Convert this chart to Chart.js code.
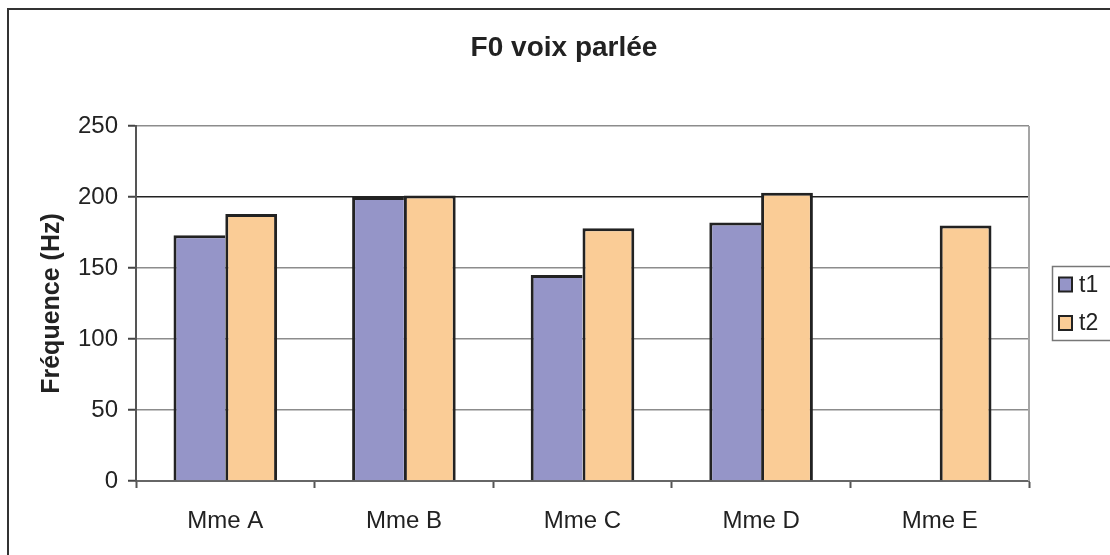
<!DOCTYPE html>
<html>
<head>
<meta charset="utf-8">
<script src="https://cdn.jsdelivr.net/npm/chart.js@4.4.1/dist/chart.umd.min.js"></script>
<style>
  body { margin: 0; background: #fff; }
  #wrap { width: 1110px; height: 555px; }
</style>
</head>
<body>
<div id="wrap"><canvas id="f0Chart" width="1110" height="555"></canvas></div>
<script>
const categories = ["Mme A", "Mme B", "Mme C", "Mme D", "Mme E"];
const t1Values = [173, 200, 145, 182, null];
const t2Values = [188, 201, 178, 203, 180];
const yTicks = [0, 50, 100, 150, 200, 250];

const FONT = "'Liberation Sans', Arial, sans-serif";

// frame, title, plot border and boxed legend like the Excel original
const excelFrame = {
  id: "excelFrame",
  afterDraw(chart) {
    const ctx = chart.ctx;
    const area = chart.chartArea;
    ctx.save();

    ctx.strokeStyle = "#333";
    ctx.lineWidth = 2;
    ctx.beginPath();
    ctx.moveTo(8, 555);
    ctx.lineTo(8, 9);
    ctx.lineTo(1110, 9);
    ctx.stroke();

    ctx.strokeStyle = "#a5a5a5";
    ctx.beginPath();
    ctx.moveTo(area.right, area.top);
    ctx.lineTo(area.right, area.bottom);
    ctx.stroke();

    ctx.fillStyle = "#222";
    ctx.font = "bold 28px " + FONT;
    ctx.textAlign = "center";
    ctx.textBaseline = "middle";
    ctx.fillText("F0 voix parlée", 564, 48);

    // legend
    ctx.strokeStyle = "#777";
    ctx.lineWidth = 1.5;
    ctx.strokeRect(1052.5, 266.5, 80, 74);
    ctx.font = "23px " + FONT;
    ctx.textAlign = "left";
    chart.data.datasets.forEach((ds, i) => {
      const y = 284.5 + i * 38.5;
      ctx.fillStyle = ds.backgroundColor;
      ctx.fillRect(1059, y - 7, 13, 14);
      ctx.strokeStyle = "#222";
      ctx.lineWidth = 2;
      ctx.strokeRect(1059, y - 7, 13, 14);
      ctx.fillStyle = "#222";
      ctx.fillText(ds.label, 1079, y + 1);
    });
    ctx.restore();
  }
};

new Chart(document.getElementById("f0Chart"), {
  type: "bar",
  data: {
    labels: categories,
    datasets: [
      {
        label: "t1",
        data: t1Values,
        backgroundColor: "#9595c8",
        borderColor: "#222",
        // right edge is shared with the t2 bar next to it
        borderWidth: { top: 3, left: 3, right: 0, bottom: 0 }
      },
      {
        label: "t2",
        data: t2Values,
        backgroundColor: "#facc96",
        borderColor: "#222",
        borderWidth: 3
      }
    ]
  },
  options: {
    responsive: false,
    animation: false,
    layout: { padding: { left: 0, right: 81, top: 126, bottom: 0 } },
    datasets: {
      bar: { categoryPercentage: 0.58, barPercentage: 1.0, inflateAmount: 0 }
    },
    plugins: {
      legend: { display: false },
      title: { display: false },
      tooltip: { enabled: false }
    },
    scales: {
      x: {
        afterFit(scale) { scale.height = 74; },
        grid: {
          offset: true,
          drawOnChartArea: false,
          tickLength: 7,
          tickColor: "#555",
          tickWidth: 2
        },
        border: { color: "#666", width: 2 },
        ticks: {
          color: "#222",
          padding: 19,
          font: { family: FONT, size: 24 }
        }
      },
      y: {
        min: 0,
        max: 250,
        afterFit(scale) { scale.width = 136; },
        afterBuildTicks(scale) {
          scale.ticks = yTicks.map(v => ({ value: v }));
        },
        grid: {
          color: ctx => (ctx.tick && ctx.tick.value === 200 ? "#222" : "#8c8c8c"),
          lineWidth: 1.5,
          tickLength: 8,
          tickColor: "#444",
          tickWidth: 2
        },
        border: { color: "#555", width: 2 },
        ticks: {
          color: "#222",
          padding: 10,
          font: { family: FONT, size: 24 }
        },
        title: {
          display: true,
          text: "Fréquence (Hz)",
          color: "#222",
          padding: { top: 37, bottom: 0 },
          font: { family: FONT, size: 25, weight: "bold" }
        }
      }
    }
  },
  plugins: [excelFrame]
});
</script>
</body>
</html>
